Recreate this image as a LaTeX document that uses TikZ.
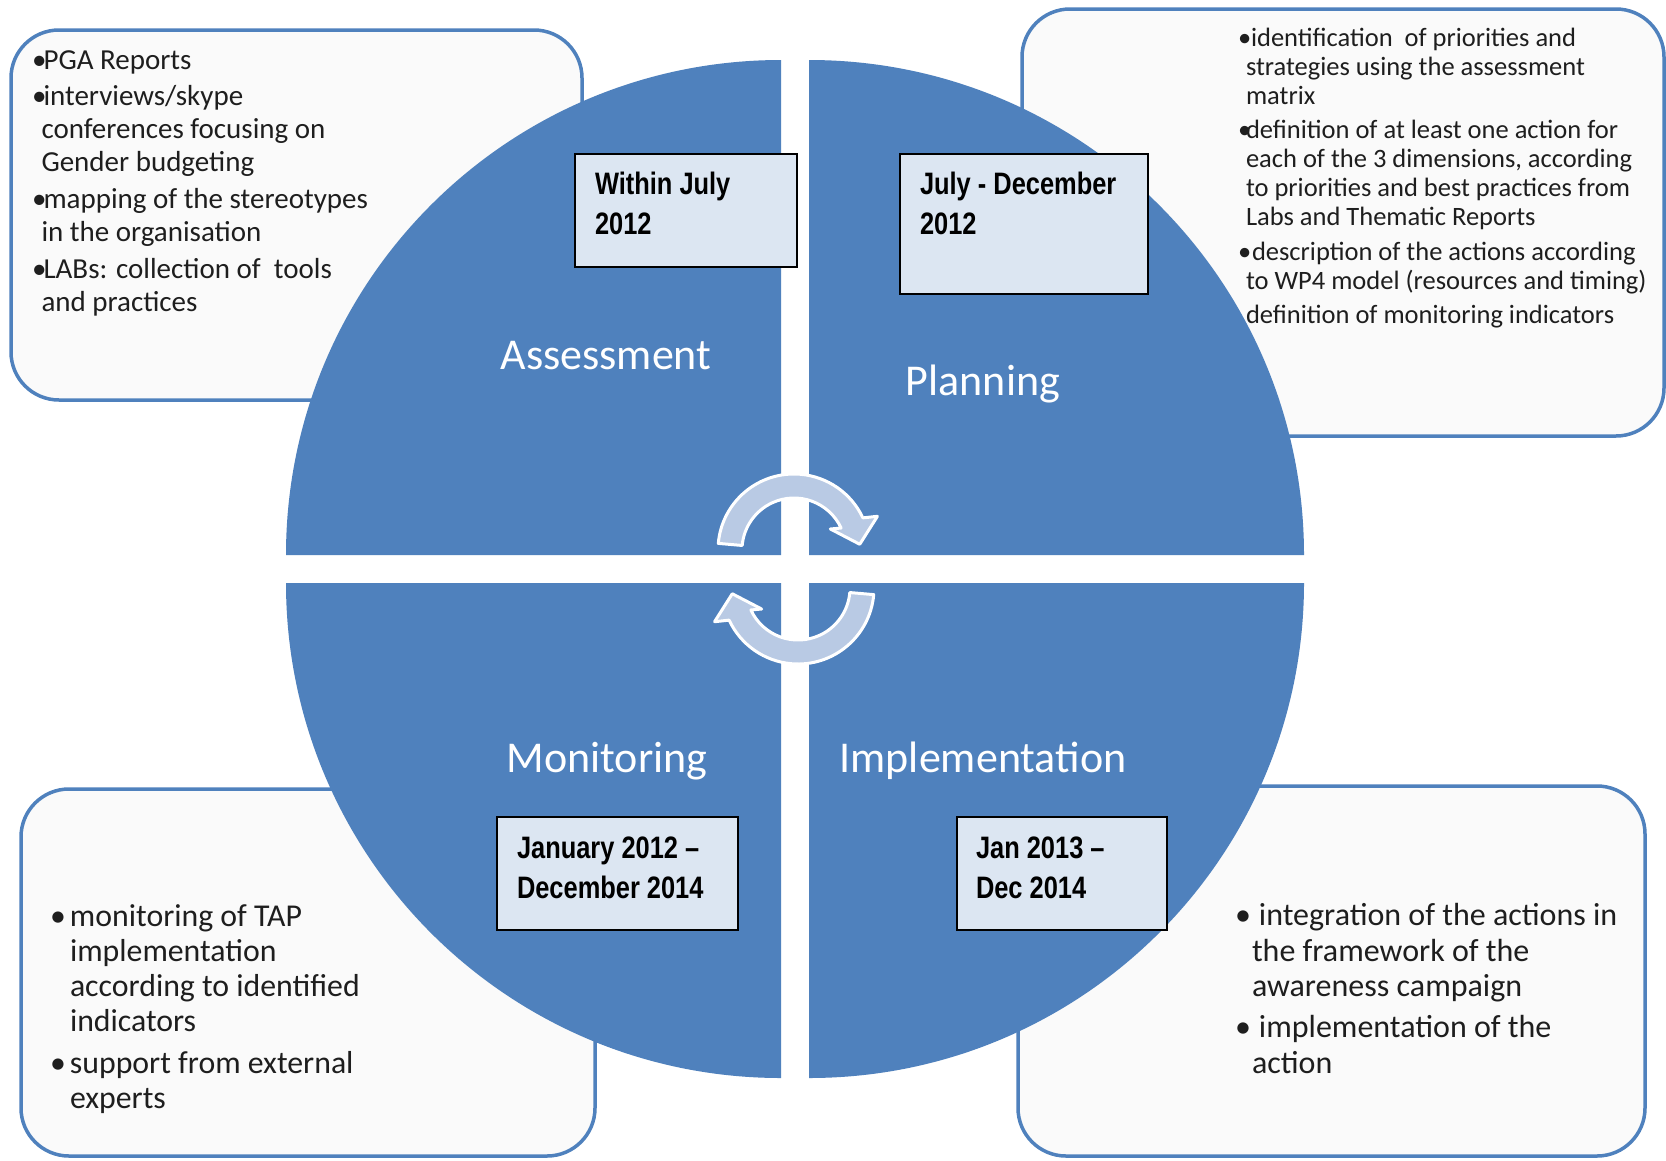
\documentclass[tikz,border=0pt]{standalone}
\usepackage{fontspec}
\setmainfont{Carlito}
\newfontfamily\datefont{Liberation Sans}[UprightFont={* Bold},FakeStretch=0.82]
\usetikzlibrary{positioning}

\definecolor{quadblue}{RGB}{79,129,189}
\definecolor{datefill}{RGB}{220,230,242}
\definecolor{arrowfill}{RGB}{185,202,228}
\definecolor{boxfill}{RGB}{250,250,250}
\definecolor{bodygray}{RGB}{30,30,30}

\newcommand{\itembul}[1]{\makebox[#1][l]{\textbullet}}
\newcommand{\itemcont}[1]{\hspace*{#1}}

\begin{document}
\begin{tikzpicture}[
        x=1pt, y=-1pt,
        every node/.style={inner sep=0pt, outer sep=0pt},
        infobox/.style={draw=quadblue, line width=3.5pt, fill=boxfill, rounded corners=48pt, anchor=north west},
        quadrant/.style={fill=quadblue},
        phase/.style={text=white, font=\fontsize{44}{50}\selectfont, anchor=base},
        datebox/.style={draw=black, line width=1.5pt, fill=datefill, anchor=north west},
        datetext/.style={font=\datefont\fontsize{31}{40}\selectfont, align=left, anchor=base west},
        bodytext/.style={text=bodygray, align=left, anchor=base west},
        cyclearrow/.style={fill=arrowfill, draw=white, line width=3pt, line join=round}
    ]

    \fill[white] (0,0) rectangle (1666,1160);
    \useasboundingbox (0,0) rectangle (1666,1160);

    % Boxes
    \node (assessbox)[infobox, minimum width=571pt, minimum height=370pt] at (11,30) {};
    \node (planbox)[infobox, minimum width=642pt, minimum height=427pt] at (1022,9) {};
    \node (monitorbox)[infobox, minimum width=574pt, minimum height=367pt] at (21,789) {};
    \node (implbox)[infobox, minimum width=627pt, minimum height=370pt] at (1018,786) {};

    % Quadrants
    \fill[quadrant] (781,555) -- (286,555) arc[start angle=180, end angle=270, radius=495] -- cycle;
    \fill[quadrant] (809,555) -- (809,60) arc[start angle=270, end angle=360, radius=495] -- cycle;
    \fill[quadrant] (809,583) -- (1304,583) arc[start angle=0, end angle=90, radius=495] -- cycle;
    \fill[quadrant] (781,583) -- (781,1078) arc[start angle=90, end angle=180, radius=495] -- cycle;

    % Box texts (placed at the baseline of their last line)
    \node (assesstext)[bodytext, font=\fontsize{29}{33}\selectfont] at (32,311) {%
        \itembul{11.5pt}PGA Reports\\[3pt]
        \itembul{11.5pt}interviews/skype\\
        \itemcont{9.5pt}conferences focusing on\\
        \itemcont{9.5pt}Gender budgeting\\[4pt]
        \itembul{11.5pt}mapping of the stereotypes\\
        \itemcont{9.5pt}in the organisation\\[4pt]
        \itembul{11.5pt}LABs: collection of~ tools\\
        \itemcont{9.5pt}and practices};

    \node (plantext)[bodytext, font=\fontsize{26.5}{29}\selectfont] at (1238,323) {%
        \itembul{13pt}identification~ of priorities and\\
        \itemcont{8pt}strategies using the assessment\\
        \itemcont{8pt}matrix\\[5.5pt]
        \itembul{8pt}definition of at least one action for\\
        \itemcont{8pt}each of the 3 dimensions, according\\
        \itemcont{8pt}to priorities and best practices from\\
        \itemcont{8pt}Labs and Thematic Reports\\[5.5pt]
        \itembul{14pt}description of the actions according\\
        \itemcont{8pt}to WP4 model (resources and timing)\\[5pt]
        \itemcont{8pt}definition of monitoring indicators};

    \node (monitortext)[bodytext, font=\fontsize{31.8}{35}\selectfont] at (50,1108) {%
        \itembul{20pt}monitoring of TAP\\
        \itemcont{20pt}implementation\\
        \itemcont{20pt}according to identified\\
        \itemcont{20pt}indicators\\[7pt]
        \itembul{20pt}support from external\\
        \itemcont{20pt}experts};

    \node (impltext)[bodytext, font=\fontsize{32}{35.5}\selectfont] at (1235,1073) {%
        \itembul{24pt}integration of the actions in\\
        \itemcont{17pt}the framework of the\\
        \itemcont{17pt}awareness campaign\\[5.5pt]
        \itembul{24pt}implementation of the\\
        \itemcont{17pt}action};

    % Phases
    \node (assess)[phase] at (606,369) {Assessment};
    \node (plan)[phase] at (983,395) {Planning};
    \node (monitor)[phase] at (607,772) {Monitoring};
    \node (impl)[phase] at (983,772) {Implementation};

    % Dates
    \node (withinjuly)[datebox, minimum width=222pt, minimum height=113pt] at (575,154) {};
    \node (withinjulytext)[datetext] at (595,234) {Within July\\2012};
    \node (julydec)[datebox, minimum width=248pt, minimum height=140pt] at (900,154) {};
    \node (julydectext)[datetext] at (920,234) {July - December\\2012};
    \node (janjan)[datebox, minimum width=241pt, minimum height=113pt] at (497,817) {};
    \node (janjantext)[datetext] at (517,898) {January 2012 \textendash\\December 2014};
    \node (jandec)[datebox, minimum width=210pt, minimum height=113pt] at (957,817) {};
    \node (jandectext)[datetext] at (976,898) {Jan 2013 \textendash\\Dec 2014};

    % Arrows
    \begin{scope}[shift={(794,550)}]
        \filldraw[cyclearrow] (185:52) -- (185:76) arc[start angle=185, end angle=335, radius=76]
            -- (338:90) -- (355:66) -- (330:42) -- (335:52)
            arc[start angle=335, end angle=185, radius=52] -- cycle;
    \end{scope}
    \begin{scope}[shift={(798,588)}, rotate=180]
        \filldraw[cyclearrow] (185:52) -- (185:76) arc[start angle=185, end angle=335, radius=76]
            -- (338:90) -- (355:66) -- (330:42) -- (335:52)
            arc[start angle=335, end angle=185, radius=52] -- cycle;
    \end{scope}

\end{tikzpicture}
\end{document}
